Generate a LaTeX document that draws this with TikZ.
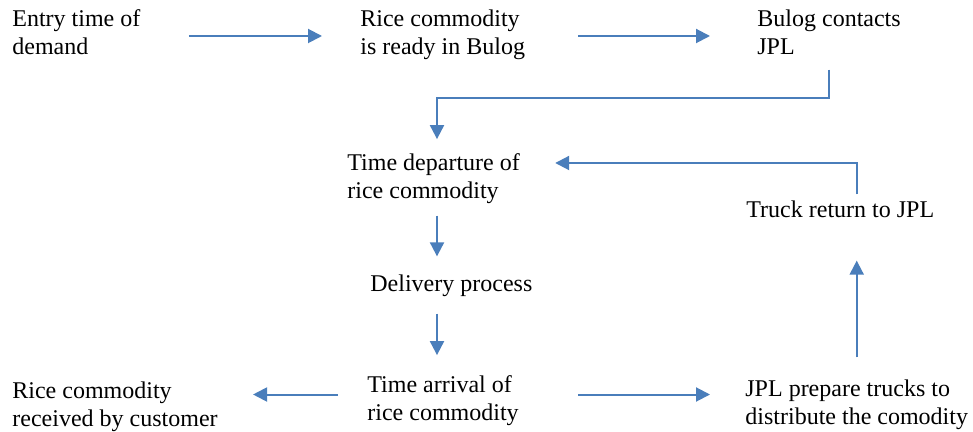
\documentclass[tikz,border=0pt]{standalone}
\usepackage{fontspec}
\setmainfont{Liberation Serif}
\usepackage{xcolor}
\usepackage{tikz}
\usetikzlibrary{calc,arrows.meta}
\definecolor{flowblue}{HTML}{4A7EBB}
\tikzset{
  lab/.style={align=left, inner sep=0pt, anchor=base west, font=\fontsize{12}{14}\selectfont},
  flow/.style={draw=flowblue, line width=1pt, -{Triangle[length=7pt,width=7pt]}},
}

\begin{document}
\begin{tikzpicture}[x=0.5pt,y=-0.5pt]
  \useasboundingbox (0,0) rectangle (973,432);
  % top row (placed by the baseline of the last line)
  \node[lab] (entry) at (12,55) {Entry time of\\demand};
  \node[lab] (ready) at (360,55) {Rice commodity\\is ready in Bulog};
  \node[lab] (contacts) at (757,55) {Bulog contacts\\JPL};
  % middle
  \node[lab] (departure) at (347,199) {Time departure of\\rice commodity};
  \node[lab] (delivery) at (370,292) {Delivery process};
  \node[lab] (returnJPL) at (746,218) {Truck return to JPL};
  % bottom row
  \node[lab] (received) at (12,426) {Rice commodity\\received by customer};
  \node[lab] (arrival) at (367,420) {Time arrival of\\rice commodity};
  \node[lab] (prepare) at (745,424) {JPL prepare trucks to\\distribute the comodity};
  % heights and column of the connectors
  \coordinate (row1) at (0,36);
  \coordinate (bend1) at (0,98);
  \coordinate (bend2) at (0,163);
  \coordinate (row3) at (0,394.5);
  \coordinate (col) at (437,0);

  \draw[flow, shorten <=24pt, shorten >=19pt] (entry.east |- row1) -- (ready.west |- row1);
  \draw[flow, shorten <=26.5pt, shorten >=23.5pt] (ready.east |- row1) -- (contacts.west |- row1);
  \draw[flow, shorten <=7pt, shorten >=7.3pt] (contacts.south) -- (contacts.south |- bend1) -| (col |- departure.north);
  \draw[flow, shorten <=5.5pt, shorten >=9.3pt] (col |- departure.south) -- (col |- delivery.north);
  \draw[flow, shorten <=8pt, shorten >=9.8pt] (col |- delivery.south) -- (col |- arrival.north);
  \draw[flow, shorten <=14.5pt, shorten >=17.5pt] (arrival.west |- row3) -- (received.east |- row3);
  \draw[flow, shorten <=29.5pt, shorten >=17.5pt] (arrival.east |- row3) -- (prepare.west |- row3);
  \draw[flow, shorten <=10.8pt, shorten >=21pt] (prepare.north) -- (prepare.north |- returnJPL.south);
  \draw[flow, shorten <=3.3pt, shorten >=17.5pt] (prepare.north |- returnJPL.north) -- (prepare.north |- bend2) -- (departure.east |- bend2);
\end{tikzpicture}
\end{document}
